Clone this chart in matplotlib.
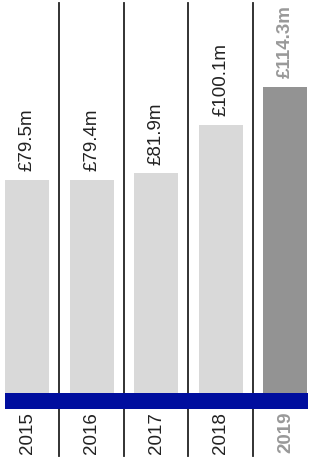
import matplotlib
matplotlib.use("Agg")
import matplotlib.pyplot as plt

years = ["2015", "2016", "2017", "2018", "2019"]
values = [79.5, 79.4, 81.9, 100.1, 114.3]
labels = ["£79.5m", "£79.4m", "£81.9m", "£100.1m", "£114.3m"]

plt.rcParams['font.family'] = ['Liberation Sans', 'DejaVu Sans']

fig = plt.figure(figsize=(3.2, 4.72), dpi=100)
ax = fig.add_axes([0, 0, 1, 1])
ax.set_xlim(-0.418, 4.536)
ax.set_ylim(-29.5, 146.6)
ax.axis('off')

x = range(len(years))
colors = ['#d9d9d9'] * 4 + ['#939393']
ax.bar(x, values, width=0.68, color=colors, zorder=2)

# dividers between years
for i in range(len(years) - 1):
    ax.plot([i + 0.5, i + 0.5], [-23.5, 145.5], color='#222222', lw=1.3, zorder=1)

# blue base strip
ax.fill_between([-0.34, 4.35], -6, 0, color='#000e9e', lw=0, zorder=3)

for i, (y, v, lab) in enumerate(zip(years, values, labels)):
    last = i == len(years) - 1
    c = '#999999' if last else '#222222'
    w = 'bold' if last else 'normal'
    ax.text(i, v + 3.3, lab, rotation=90, ha='center', va='bottom',
            fontsize=13.5, color=c, fontweight=w)
    ax.text(i, -7.0, y, rotation=90, ha='center', va='top',
            fontsize=13.5, color=c, fontweight=w)

fig.savefig("out.png", dpi=100)
